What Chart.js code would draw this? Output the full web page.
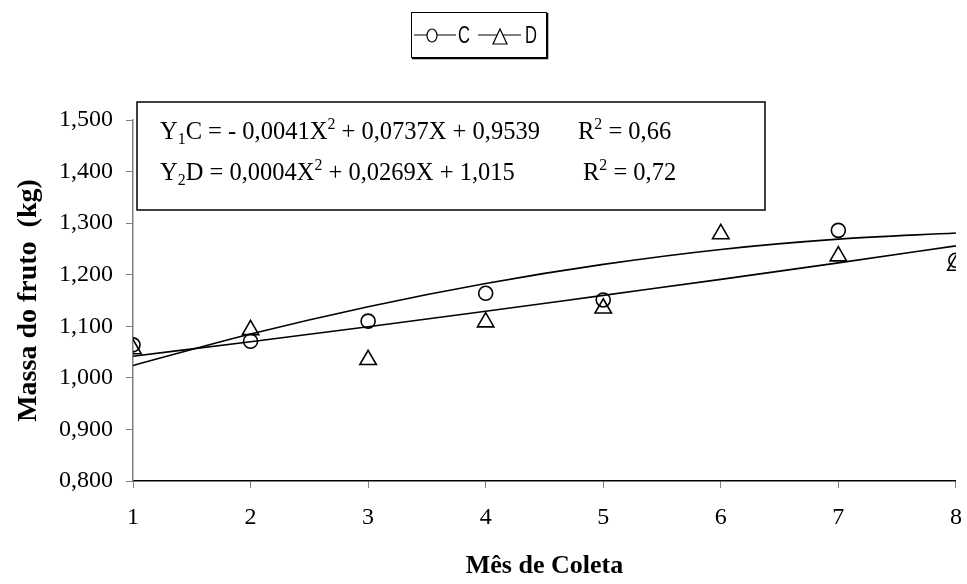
<!DOCTYPE html>
<html>
<head>
<meta charset="utf-8">
<script src="https://cdn.jsdelivr.net/npm/chart.js@4"></script>
<style>
  html, body { margin: 0; padding: 0; background: #fff; }
  #wrap { width: 967px; height: 584px; }
</style>
</head>
<body>
<div id="wrap"><canvas id="massChart" width="967" height="584"></canvas></div>
<script>
// DATA
const months = [1, 2, 3, 4, 5, 6, 7, 8];
const massC = [1.064, 1.071, 1.110, 1.164, 1.151, null, 1.286, 1.228];
const massD = [1.056, 1.093, 1.035, 1.108, 1.135, 1.279, 1.236, 1.218];
const trendC = [1.024, 1.085, 1.138, 1.183, 1.220, 1.249, 1.269, 1.281];
const trendD = [1.042, 1.070, 1.099, 1.129, 1.160, 1.191, 1.223, 1.256];
const seriesNames = ["C", "D"];
const equationLines = [
  [["Y", ""], ["1", "sub"], ["C = - 0,0041X", ""], ["2", "sup"], [" + 0,0737X + 0,9539", ""]],
  [["Y", ""], ["2", "sub"], ["D = 0,0004X", ""], ["2", "sup"], [" + 0,0269X + 1,015", ""]]
];
const r2Labels = ["0,66", "0,72"];

const serif = "'Liberation Serif', 'Times New Roman', serif";
const sans = "'Liberation Sans', Arial, sans-serif";

function toPoints(values) {
  return months.map((m, i) => ({ x: m, y: values[i] }));
}

// draws a text made of normal / sub / sup pieces
function drawRich(ctx, parts, x, y, size) {
  parts.forEach(p => {
    const small = p[1] !== "";
    ctx.font = (small ? size * 0.65 : size) + "px " + serif;
    let dy = 0;
    if (p[1] === "sub") dy = size * 0.2;
    if (p[1] === "sup") dy = -size * 0.4;
    ctx.fillText(p[0], x, y + dy);
    x += ctx.measureText(p[0]).width;
  });
}

// narrow legend letters
function drawNarrow(ctx, text, x, y) {
  ctx.save();
  ctx.translate(x, y);
  ctx.scale(0.72, 1);
  ctx.font = "23px " + sans;
  ctx.fillText(text, 0, 0);
  ctx.restore();
}

// BOXES (legend + equations)
const boxesPlugin = {
  id: "boxes",
  afterDraw(chart) {
    const ctx = chart.ctx;
    ctx.save();
    ctx.strokeStyle = "#000";
    ctx.fillStyle = "#000";

    // legend
    ctx.lineWidth = 1;
    ctx.strokeRect(411.5, 12.5, 135, 45);
    ctx.lineWidth = 1.5;
    ctx.beginPath();
    ctx.moveTo(547.5, 13); ctx.lineTo(547.5, 58.5); ctx.lineTo(412, 58.5);
    ctx.stroke();

    ctx.lineWidth = 1.2;
    ctx.beginPath();
    ctx.moveTo(414, 35); ctx.lineTo(456, 35);
    ctx.moveTo(478, 35); ctx.lineTo(521, 35);
    ctx.stroke();
    ctx.beginPath();
    ctx.ellipse(432, 35.5, 5, 6.5, 0, 0, Math.PI * 2);
    ctx.fillStyle = "#fff"; ctx.fill(); ctx.stroke();
    ctx.beginPath();
    ctx.moveTo(500, 29); ctx.lineTo(507, 44); ctx.lineTo(493, 44); ctx.closePath();
    ctx.fill(); ctx.stroke();
    ctx.fillStyle = "#000";
    ctx.textBaseline = "alphabetic";
    drawNarrow(ctx, seriesNames[0], 458, 43);
    drawNarrow(ctx, seriesNames[1], 525, 43);

    // equations
    ctx.lineWidth = 1.5;
    ctx.strokeRect(137, 102, 628, 108);
    drawRich(ctx, equationLines[0], 160, 139, 24.5);
    drawRich(ctx, [["R", ""], ["2", "sup"], [" = " + r2Labels[0], ""]], 578, 139, 24.5);
    drawRich(ctx, equationLines[1], 160, 180, 24.5);
    drawRich(ctx, [["R", ""], ["2", "sup"], [" = " + r2Labels[1], ""]], 583, 180, 24.5);
    ctx.restore();
  }
};

const markerBase = {
  showLine: false,
  borderColor: "#000",
  backgroundColor: "rgba(255,255,255,0)",
  borderWidth: 1.6
};
const trendBase = {
  showLine: true,
  borderColor: "#000",
  borderWidth: 1.6,
  pointRadius: 0,
  cubicInterpolationMode: "monotone"
};

new Chart(document.getElementById("massChart"), {
  type: "scatter",
  data: {
    datasets: [
      { ...trendBase, label: "trend C", data: toPoints(trendC) },
      { ...trendBase, label: "trend D", data: toPoints(trendD) },
      { ...markerBase, label: seriesNames[0], data: toPoints(massC), pointStyle: "circle", pointRadius: 7 },
      { ...markerBase, label: seriesNames[1], data: toPoints(massD), pointStyle: "triangle", pointRadius: 9.5 }
    ]
  },
  options: {
    responsive: false,
    animation: false,
    layout: { padding: { top: 120, right: 6, left: 6, bottom: 0 } },
    plugins: {
      legend: { display: false },
      tooltip: { enabled: false }
    },
    scales: {
      x: {
        type: "linear",
        min: 1,
        max: 8,
        afterFit(scale) {
          scale.height = 103;
          scale.paddingLeft = 0;
          scale.paddingRight = 0;
        },
        ticks: {
          stepSize: 1,
          color: "#000",
          padding: 15,
          font: { family: serif, size: 24 }
        },
        grid: { drawOnChartArea: false, drawTicks: true, tickLength: 7, color: "#808080" },
        border: { display: true, color: "#000", width: 1.5 },
        title: {
          display: true,
          text: "Mês de Coleta",
          color: "#000",
          padding: { top: 0, bottom: 2 },
          font: { family: serif, size: 26, weight: "bold" }
        }
      },
      y: {
        min: 0.8,
        max: 1.5,
        afterFit(scale) {
          scale.width = 127;
          scale.paddingTop = 0;
          scale.paddingBottom = 0;
        },
        ticks: {
          stepSize: 0.1,
          color: "#000",
          padding: 13,
          font: { family: serif, size: 24 },
          callback: v => v.toFixed(3).replace(".", ",")
        },
        grid: { drawOnChartArea: false, drawTicks: true, tickLength: 7, color: "#808080" },
        border: { display: true, color: "#808080", width: 1.5 },
        title: {
          display: true,
          text: "Massa do fruto  (kg)",
          color: "#000",
          padding: { top: 6, bottom: 0 },
          font: { family: serif, size: 28, weight: "bold" }
        }
      }
    }
  },
  plugins: [boxesPlugin]
});
</script>
</body>
</html>
